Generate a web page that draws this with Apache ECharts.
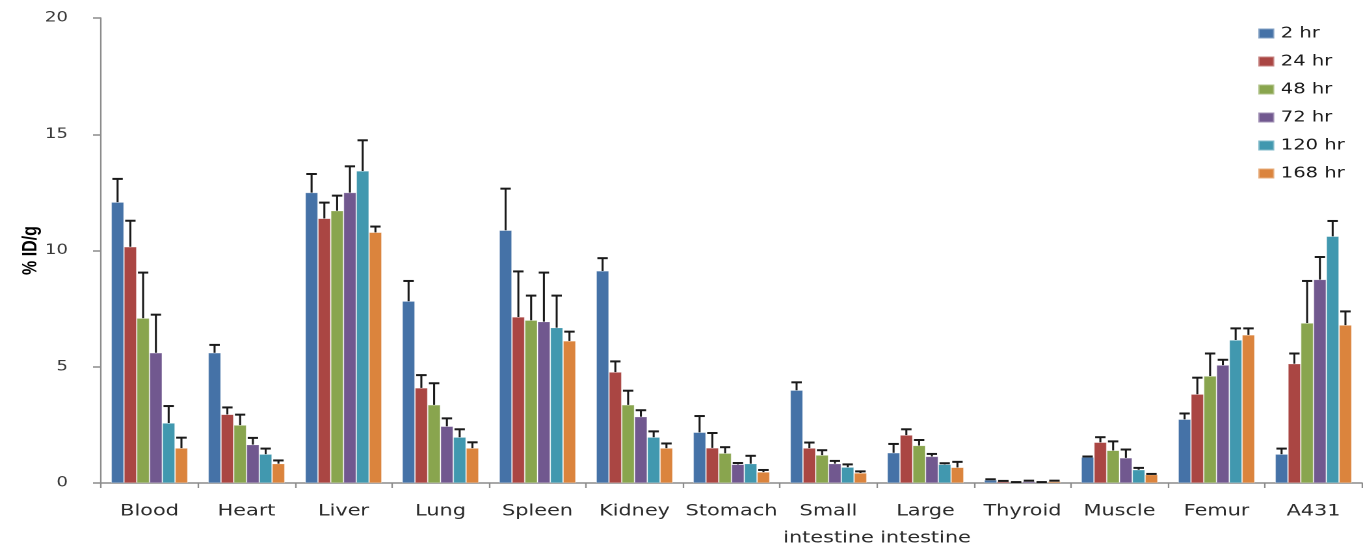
<!DOCTYPE html>
<html>
<head>
<meta charset="utf-8">
<script src="https://cdn.jsdelivr.net/npm/echarts@6/dist/echarts.min.js"></script>
<style>
  html, body { margin: 0; padding: 0; background: #fff; }
  #frame { width: 1363px; height: 552px; overflow: hidden; }
  /* the chart is laid out narrower and widened horizontally, giving the wide lettering */
  #chart { width: 1048px; height: 552px; transform-origin: 0 0; }
</style>
</head>
<body>
<div id="frame"><div id="chart"></div></div>
<script>
// Biodistribution (% ID/g) per organ at each time point, with upper SD error bars
const organs = ['Blood', 'Heart', 'Liver', 'Lung', 'Spleen', 'Kidney', 'Stomach',
  'Small\nintestine', 'Large\nintestine', 'Thyroid', 'Muscle', 'Femur', 'A431'];
const timepoints = ['2 hr', '24 hr', '48 hr', '72 hr', '120 hr', '168 hr'];
const colors = ['#4572A7', '#AA4643', '#89A54E', '#71588F', '#4198AF', '#DB843D'];

const mean2h   = [12.08, 5.60, 12.49, 7.82, 10.87, 9.12, 2.18, 3.99, 1.30, 0.13, 1.11, 2.74, 1.24];
const mean24h  = [10.16, 2.95, 11.38, 4.09, 7.14, 4.77, 1.51, 1.50, 2.06, 0.07, 1.75, 3.82, 5.13];
const mean48h  = [7.09, 2.49, 11.71, 3.36, 7.00, 3.36, 1.28, 1.20, 1.61, 0.03, 1.40, 4.60, 6.88];
const mean72h  = [5.60, 1.65, 12.49, 2.44, 6.94, 2.85, 0.80, 0.83, 1.14, 0.07, 1.08, 5.07, 8.75];
const mean120h = [2.58, 1.24, 13.42, 1.97, 6.68, 1.97, 0.83, 0.68, 0.80, 0.03, 0.57, 6.15, 10.61];
const mean168h = [1.50, 0.83, 10.78, 1.50, 6.11, 1.50, 0.47, 0.43, 0.67, 0.07, 0.36, 6.37, 6.79];

const sd2h   = [1.00, 0.34, 0.80, 0.87, 1.79, 0.55, 0.70, 0.34, 0.38, 0.03, 0.03, 0.25, 0.24];
const sd24h  = [1.12, 0.30, 0.68, 0.55, 1.96, 0.46, 0.64, 0.24, 0.25, 0.02, 0.22, 0.71, 0.44];
const sd48h  = [1.96, 0.45, 0.65, 0.93, 1.06, 0.61, 0.26, 0.21, 0.24, 0.01, 0.39, 0.97, 1.81];
const sd72h  = [1.64, 0.29, 1.13, 0.34, 2.11, 0.28, 0.06, 0.12, 0.11, 0.03, 0.36, 0.23, 0.97];
const sd120h = [0.73, 0.24, 1.32, 0.34, 1.38, 0.25, 0.34, 0.12, 0.05, 0.01, 0.08, 0.50, 0.66];
const sd168h = [0.45, 0.14, 0.25, 0.25, 0.40, 0.20, 0.09, 0.07, 0.24, 0.03, 0.03, 0.28, 0.59];

const yTicks = { min: 0, max: 20, interval: 5 };

// horizontal widening factor of the drawing
const SX = 1363 / 1048;
document.getElementById('chart').style.transform = 'scaleX(' + SX + ')';

const means = [mean2h, mean24h, mean48h, mean72h, mean120h, mean168h];
const sds = [sd2h, sd24h, sd48h, sd72h, sd120h, sd168h];
const CATEGORY_GAP = 0.21;
const nSeries = timepoints.length;

const barSeries = timepoints.map((name, i) => ({
  name: name,
  type: 'bar',
  data: means[i],
  barGap: '0%',
  barCategoryGap: (CATEGORY_GAP * 100) + '%',
  itemStyle: { color: colors[i], borderColor: 'rgba(255,255,255,0.35)', borderWidth: 0.6 },
  emphasis: { disabled: true },
  z: 2
}));

// Upper error bars, placed on the same slot as each bar within its category band
const errSeries = timepoints.map((name, i) => ({
  name: name + ' SD',
  type: 'custom',
  data: organs.map((_, k) => [k, means[i][k], sds[i][k]]),
  encode: { x: 0, y: 1 },
  z: 5,
  silent: true,
  renderItem: function (params, api) {
    const k = api.value(0);
    const v = api.value(1);
    const e = api.value(2);
    const base = api.coord([k, v]);
    const top = api.coord([k, v + e]);
    const band = api.size([1, 0])[0];
    const barW = band * (1 - CATEGORY_GAP) / nSeries;
    const x = base[0] + (i - (nSeries - 1) / 2) * barW;
    const half = 5.2 / SX;
    return {
      type: 'group',
      children: [
        { type: 'line', shape: { x1: x, y1: base[1], x2: x, y2: top[1] },
          style: { stroke: '#1a1a1a', lineWidth: 2 / SX } },
        { type: 'line', shape: { x1: x - half, y1: top[1], x2: x + half, y2: top[1] },
          style: { stroke: '#1a1a1a', lineWidth: 2 } }
      ]
    };
  }
}));

const chart = echarts.init(document.getElementById('chart'), null,
  { renderer: 'canvas', devicePixelRatio: 2 });
chart.setOption({
  animation: false,
  backgroundColor: '#ffffff',
  color: colors,
  grid: { left: 101 / SX, right: 1 / SX, top: 18, bottom: 66, containLabel: false },
  legend: {
    data: timepoints,
    orient: 'vertical',
    left: 1257 / SX,
    top: 26,
    padding: 0,
    itemWidth: 16 / SX,
    itemHeight: 10,
    itemGap: 13,
    icon: 'rect',
    selectedMode: false,
    textStyle: { fontFamily: 'DejaVu Sans', fontSize: 15, color: '#1a1a1a' }
  },
  xAxis: {
    type: 'category',
    data: organs,
    axisLine: { lineStyle: { color: '#8c8c8c', width: 1.5 } },
    axisTick: { show: true, length: 5, alignWithLabel: false,
      lineStyle: { color: '#8c8c8c', width: 1.5 / SX } },
    axisLabel: {
      fontFamily: 'DejaVu Sans', fontSize: 16, color: '#2b2b2b',
      margin: 15, lineHeight: 27, interval: 0
    }
  },
  yAxis: {
    type: 'value',
    min: yTicks.min,
    max: yTicks.max,
    interval: yTicks.interval,
    name: '% ID/g',
    nameLocation: 'middle',
    nameGap: 46,
    nameMoveOverlap: false,
    nameRotate: 90,
    nameTextStyle: { fontFamily: 'Liberation Sans', fontWeight: 'bold', fontSize: 16, color: '#000' },
    splitLine: { show: false },
    axisLine: { show: true, lineStyle: { color: '#8c8c8c', width: 1.5 / SX } },
    axisTick: { show: true, length: 8 / SX, lineStyle: { color: '#8c8c8c', width: 1.5 } },
    axisLabel: { fontFamily: 'DejaVu Sans', fontSize: 14, color: '#3a3a3a', margin: 33 / SX }
  },
  series: barSeries.concat(errSeries)
});
</script>
</body>
</html>
